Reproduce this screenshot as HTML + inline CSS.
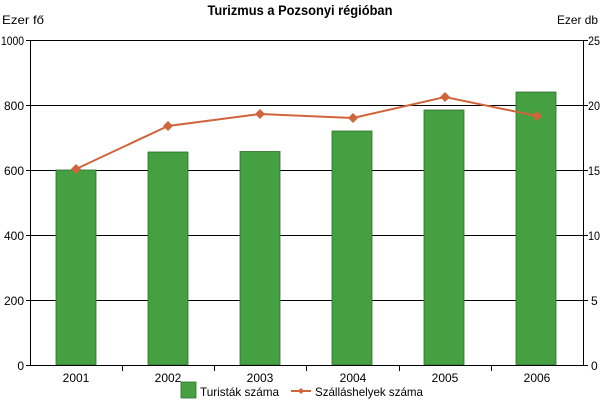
<!DOCTYPE html>
<html><head><meta charset="utf-8"><style>body{margin:0;background:#fff}svg{display:block;font-family:"Liberation Sans",Arial,sans-serif}</style></head><body>
<svg width="600" height="400" viewBox="0 0 600 400">
<rect width="600" height="400" fill="#fff"/>
<text x="300" y="15" text-anchor="middle" font-size="14" font-weight="bold" transform="translate(300,0) scale(0.92,1) translate(-300,0)">Turizmus a Pozsonyi régióban</text>
<text x="2" y="24" font-size="12" textLength="42" lengthAdjust="spacingAndGlyphs">Ezer fő</text>
<text x="557" y="24" font-size="12" textLength="41" lengthAdjust="spacingAndGlyphs">Ezer db</text>
<g stroke="#000" stroke-width="1">
<line x1="30" y1="40.5" x2="584" y2="40.5"/>
<line x1="30" y1="105.5" x2="584" y2="105.5"/>
<line x1="30" y1="170.5" x2="584" y2="170.5"/>
<line x1="30" y1="235.5" x2="584" y2="235.5"/>
<line x1="30" y1="300.5" x2="584" y2="300.5"/>
</g>
<g fill="#44a040" stroke="#2e6e2c" stroke-width="0.8">
<rect x="56" y="170" width="40" height="195"/>
<rect x="148" y="152" width="40" height="213"/>
<rect x="240" y="151.5" width="40" height="213.5"/>
<rect x="332" y="131" width="40" height="234"/>
<rect x="424" y="110" width="40" height="255"/>
<rect x="516" y="92" width="40" height="273"/>
</g>
<g stroke="#000" stroke-width="1">
<line x1="30.5" y1="40" x2="30.5" y2="365"/>
<line x1="583.5" y1="40" x2="583.5" y2="365"/>
<line x1="30" y1="365.5" x2="584" y2="365.5"/>
<line x1="122.5" y1="365" x2="122.5" y2="371"/>
<line x1="214.5" y1="365" x2="214.5" y2="371"/>
<line x1="306.5" y1="365" x2="306.5" y2="371"/>
<line x1="399.5" y1="365" x2="399.5" y2="371"/>
<line x1="491.5" y1="365" x2="491.5" y2="371"/>
<line x1="26" y1="40.5" x2="30" y2="40.5"/><line x1="26" y1="105.5" x2="30" y2="105.5"/><line x1="26" y1="170.5" x2="30" y2="170.5"/><line x1="26" y1="235.5" x2="30" y2="235.5"/><line x1="26" y1="300.5" x2="30" y2="300.5"/><line x1="26" y1="365.5" x2="30" y2="365.5"/>
<line x1="584" y1="40.5" x2="588" y2="40.5"/><line x1="584" y1="105.5" x2="588" y2="105.5"/><line x1="584" y1="170.5" x2="588" y2="170.5"/><line x1="584" y1="235.5" x2="588" y2="235.5"/><line x1="584" y1="300.5" x2="588" y2="300.5"/><line x1="584" y1="365.5" x2="588" y2="365.5"/>
</g>
<g font-size="12" text-anchor="end">
<text x="24" y="45" textLength="23" lengthAdjust="spacingAndGlyphs">1000</text><text x="24" y="110">800</text><text x="24" y="175">600</text><text x="24" y="240">400</text><text x="24" y="305">200</text><text x="24" y="370">0</text>
</g>
<g font-size="12">
<text x="588" y="45" textLength="12" lengthAdjust="spacingAndGlyphs">25</text><text x="588" y="110" textLength="12" lengthAdjust="spacingAndGlyphs">20</text><text x="588" y="175" textLength="12" lengthAdjust="spacingAndGlyphs">15</text><text x="588" y="240" textLength="12" lengthAdjust="spacingAndGlyphs">10</text><text x="591" y="305">5</text><text x="591" y="370">0</text>
</g>
<g font-size="12" text-anchor="middle">
<text x="76" y="382">2001</text><text x="168" y="382">2002</text><text x="260" y="382">2003</text><text x="353" y="382">2004</text><text x="445" y="382">2005</text><text x="537" y="382">2006</text>
</g>
<polyline points="76,169 168,126 260,114 353,118 445,97 537,116" fill="none" stroke="#d0643a" stroke-width="2"/>
<g fill="#d0643a">
<path d="M76,164 l5,5 l-5,5 l-5,-5z"/><path d="M168,121 l5,5 l-5,5 l-5,-5z"/><path d="M260,109 l5,5 l-5,5 l-5,-5z"/><path d="M353,113 l5,5 l-5,5 l-5,-5z"/><path d="M445,92 l5,5 l-5,5 l-5,-5z"/><path d="M537,111 l5,5 l-5,5 l-5,-5z"/>
</g>
<rect x="181" y="382" width="15" height="16" fill="#44a040" stroke="#2e6e2c" stroke-width="0.8"/>
<text x="200" y="396" font-size="12" textLength="79" lengthAdjust="spacingAndGlyphs">Turisták száma</text>
<line x1="291" y1="391" x2="311" y2="391" stroke="#d0643a" stroke-width="2"/>
<path d="M301,388 l3,3 l-3,3 l-3,-3z" fill="#d0643a"/>
<text x="315" y="396" font-size="12" textLength="108" lengthAdjust="spacingAndGlyphs">Szálláshelyek száma</text>
</svg>
</body></html>
